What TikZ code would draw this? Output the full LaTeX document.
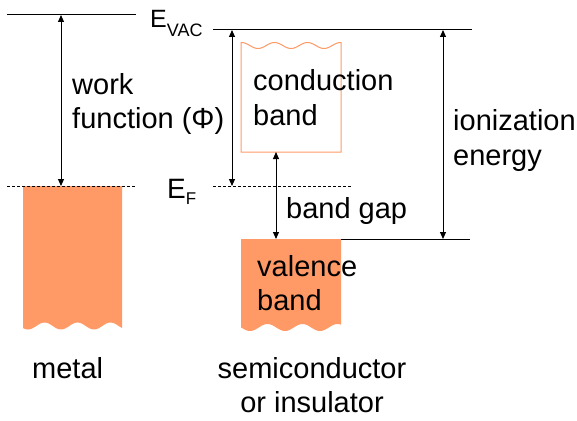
\documentclass[tikz,border=0pt]{standalone}
\usepackage{fontspec}
\setmainfont{Liberation Sans}
\usetikzlibrary{arrows.meta}
\definecolor{bandorange}{RGB}{255,153,102}
\begin{document}
\begin{tikzpicture}[x=1pt,y=-1pt,
  lvl/.style={line width=1pt},
  fermi/.style={line width=0.8pt, dash pattern=on 3pt off 2pt},
  dimarrow/.style={line width=1pt,{Triangle[length=7pt,width=6pt]}-{Triangle[length=7pt,width=6pt]}},
  lbl/.style={anchor=base west, inner sep=0pt, font=\fontsize{29}{34}\selectfont},
  clbl/.style={anchor=base, inner sep=0pt, font=\fontsize{29}{34}\selectfont},
]
\useasboundingbox (0,0) rectangle (577,420);

% bands
\fill[bandorange] (23,186) -- (122,186) -- plot[domain=122:23,samples=80] (\x,{326+3.5*cos(10.9091*(\x-28))}) -- cycle;
\fill[bandorange] (241,239) -- (341,239) -- plot[domain=341:241,samples=80] (\x,{327.5+3.5*cos(10.2857*(\x-250))}) -- cycle;
\draw[bandorange, line width=1pt] (241,152) -- plot[domain=241:341,samples=80] (\x,{45.5+3*cos(10.9091*(\x-258))}) -- (341,152) -- cycle;

% coordinates
\coordinate (mvacL) at (7,15);
\coordinate (mvacR) at (136,15);
\coordinate (mfL) at (7,186);
\coordinate (mfR) at (136,186);
\coordinate (wfTop) at (61,15);
\coordinate (wfBot) at (61,186);
\coordinate (svacL) at (213,30);
\coordinate (svacR) at (472,30);
\coordinate (sfL) at (213,186);
\coordinate (sfR) at (352,186);
\coordinate (swTop) at (232,30);
\coordinate (swBot) at (232,186);
\coordinate (cbBot) at (276,152);
\coordinate (vbTop) at (276,239);
\coordinate (vbR) at (341,239);
\coordinate (vbLineR) at (470,239);
\coordinate (ieTop) at (443,30);
\coordinate (ieBot) at (443,239);

% levels
\draw[lvl] (mvacL) -- (mvacR);
\draw[fermi] (mfL) -- (mfR);
\draw[lvl] (svacL) -- (svacR);
\draw[fermi] (sfL) -- (sfR);
\draw[lvl] (vbR) -- (vbLineR);

% arrows
\draw[dimarrow] (wfTop) -- (wfBot);
\draw[dimarrow] (swTop) -- (swBot);
\draw[dimarrow] (cbBot) -- (vbTop);
\draw[dimarrow] (ieTop) -- (ieBot);

% labels
\node[anchor=base west, inner sep=0pt] (evac) at (150,28) {\fontsize{25}{25}\selectfont E\raisebox{-9pt}{\fontsize{18}{18}\selectfont VAC}};
\node[anchor=base west, inner sep=0pt] (ef) at (167,198) {\fontsize{28}{28}\selectfont E\raisebox{-6pt}{\fontsize{17}{17}\selectfont F}};
\node[lbl] (wf1) at (72,94) {work};
\node[lbl] (wf2) at (72,128) {function (Φ)};
\node[lbl] (cb1) at (253,90) {conduction};
\node[lbl] (cb2) at (253,125) {band};
\node[lbl] (bg) at (286,218) {band gap};
\node[lbl] (ie1) at (453,130) {ionization};
\node[lbl] (ie2) at (453,165) {energy};
\node[lbl] (vb1) at (257,276) {valence};
\node[lbl] (vb2) at (257,310) {band};
\node[lbl] (metal) at (32,378) {metal};
\node[clbl] (sc1) at (312,378) {semiconductor};
\node[clbl] (sc2) at (312,412) {or insulator};
\end{tikzpicture}
\end{document}
